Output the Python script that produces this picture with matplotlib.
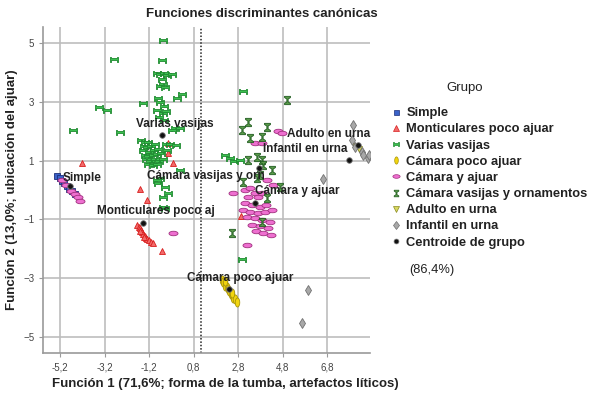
import numpy as np
import matplotlib
matplotlib.use('Agg')
import matplotlib.pyplot as plt
from matplotlib.path import Path
from matplotlib.transforms import Affine2D
from matplotlib.lines import Line2D

plt.rcParams['font.family'] = ['Liberation Sans', 'DejaVu Sans']

# --- datos (funcion 1, funcion 2) ---
simple_x = [-5.33, -5.22, -5.12, -5.02, -4.90, -4.80, -4.66, -4.55]
simple_y = [0.48, 0.40, 0.31, 0.23, 0.13, 0.05, -0.04, -0.12]

montic_x = [-1.74, -1.68, -1.63, -1.58, -1.52, -1.47, -1.40, -1.35, -1.28, -1.20,
            -1.12, -1.05, -1.62, -1.45, -4.21, -1.61, -1.30, -0.36, -0.36, -0.13,
            -0.63, 2.92]
montic_y = [-1.18, -1.25, -1.31, -1.37, -1.44, -1.50, -1.55, -1.62, -1.66, -1.71,
            -1.76, -1.80, -1.40, -1.60, 0.92, 0.03, -0.34, 1.60, 1.26, 0.92,
            -2.07, -0.88]

varias_x = [-0.58, -2.78, -0.63, -0.85, -0.72, -0.55, -0.40, -0.20, -0.63, -0.58,
            -0.70, -0.50, 0.27, 0.05, -0.81, -1.48, -3.45, -3.09, -0.72, -0.55,
            -0.85, -0.60, -0.45, -0.75, -0.55, -4.62, -2.51, -0.04, 0.18, -0.20,
            -1.55, -1.40, -1.25, -1.45, -1.30, -1.10, -0.95, -1.50, -1.20, -1.00,
            -0.80, -1.40, -1.25, -1.05, -0.85, -0.65, -1.35, -1.15, -0.95, -0.75,
            -1.25, -1.05, -0.85, -0.60, -0.45, -0.25, -0.40, 0.00, 0.18, -0.72,
            -0.81, -0.49, -0.36, -0.49, -0.85, -0.58, -0.58, 3.01, 2.20, 2.42,
            2.60, 2.87, 2.96]
varias_y = [5.10, 4.46, 4.42, 3.98, 3.95, 3.97, 3.92, 3.95, 3.78, 3.61,
            3.55, 3.50, 3.27, 3.13, 3.13, 2.96, 2.82, 2.72, 3.00, 2.85,
            2.72, 2.62, 2.70, 2.50, 2.40, 2.04, 1.97, 2.11, 2.11, 2.05,
            1.70, 1.65, 1.62, 1.50, 1.45, 1.50, 1.55, 1.35, 1.30, 1.35,
            1.40, 1.20, 1.15, 1.20, 1.22, 1.25, 1.05, 1.00, 1.05, 1.00,
            0.90, 0.85, 0.90, 1.05, 1.55, 1.55, 1.35, 1.53, 0.68, 0.41,
            0.24, 0.10, -0.10, -0.61, 0.34, -0.24, -0.58, 3.37, 1.19, 1.09,
            0.98, 1.02, -2.35]

cpoco_x = [2.06, 2.12, 2.18, 2.22, 2.28, 2.33, 2.40, 2.45, 2.52, 2.58, 2.64, 2.72, 2.20, 2.50]
cpoco_y = [-3.06, -3.13, -3.17, -3.26, -3.30, -3.37, -3.44, -3.53, -3.57, -3.66, -3.71, -3.80, -3.10, -3.49]

cajuar_x = [3.10, 3.32, 3.54, 3.23, 3.68, 3.86, 3.10, 3.41, 3.77, 4.04,
            3.01, 3.32, 3.68, 3.99, 4.31, 3.19, 3.54, 3.86, 4.22, 3.41,
            3.77, 4.13, 3.59, 3.90, 4.26, 2.56, 4.08, 4.35, 4.58, 4.76,
            3.54, 3.86, 3.19, -0.13, -5.10, -4.95, -4.70, -4.55, -4.42, -4.32]
cajuar_y = [0.00, 0.07, -0.10, -0.24, -0.24, -0.10, -0.44, -0.51, -0.58, -0.51,
            -0.68, -0.75, -0.78, -0.75, -0.68, -0.92, -0.95, -1.02, -1.09, -1.19,
            -1.22, -1.29, -1.39, -1.46, -1.53, -0.10, 0.34, 0.17, 2.00, 1.94,
            1.60, 1.60, -1.87, -1.46, 0.35, 0.18, -0.03, -0.15, -0.25, -0.36]

cvas_x = [4.98, 3.23, 2.96, 4.08, 3.32, 3.86, 3.23, 3.63, 3.86, 3.90,
          4.31, 3.01, 3.63, 4.67, 4.08, 3.77, 2.51, 3.86]
cvas_y = [3.06, 2.31, 2.04, 2.14, 1.77, 1.80, 1.02, 1.12, 1.02, 0.85,
          0.68, 0.27, 0.41, 0.10, -0.27, 0.51, -1.46, -1.09]

adulto_x = [8.03, 8.20]
adulto_y = [1.50, 1.40]

infantil_x = [7.94, 7.89, 8.03, 8.34, 8.61, 8.39, 8.68, 6.59, 5.92, 5.65]
infantil_y = [2.21, 1.70, 1.46, 1.29, 1.09, 1.19, 1.19, 0.37, -3.40, -4.52]

# centroides
cent_names = ['Simple', 'Monticulares poco aj', 'Varias vasijas', 'Cámara poco ajuar',
              'Cámara y ajuar', 'Cámara vasijas y orn', 'Adulto en urna', 'Infantil en urna']
cent_x = [-4.75, -1.48, -0.63, 2.38, 3.54, 3.72, 8.16, 7.76]
cent_y = [0.14, -1.12, 1.87, -3.37, -0.44, 0.75, 1.53, 1.02]
# posicion de la etiqueta de cada centroide
lab_x = [-5.07, -3.54, -1.79, 0.49, 3.54, -1.30, 4.98, 3.90]
lab_y = [0.41, -0.71, 2.24, -3.00, -0.03, 0.48, 1.90, 1.39]

xticks = [-5.2, -3.2, -1.2, 0.8, 2.8, 4.8, 6.8]
xtick_labels = ['-5,2', '-3,2', '-1,2', '0,8', '2,8', '4,8', '6,8']
yticks = [5, 3, 1, -1, -3, -5]
corte = 1.12

# --- marcadores ---
ell_h = Path.unit_circle().transformed(Affine2D().scale(1.0, 0.5))
ell_v = Path.unit_circle().transformed(Affine2D().scale(0.5, 1.0))
reloj = Path([(-0.7, 1), (0.7, 1), (0.7, 0.7), (0.15, 0.35), (0.15, -0.35), (0.7, -0.7),
              (0.7, -1), (-0.7, -1), (-0.7, -0.7), (-0.15, -0.35), (-0.15, 0.35),
              (-0.7, 0.7), (-0.7, 1)])
reloj_h = Path([(-1, 0.6), (-0.7, 0.6), (-0.7, 0.18), (0.7, 0.18), (0.7, 0.6),
                (1, 0.6), (1, -0.6), (0.7, -0.6), (0.7, -0.18), (-0.7, -0.18),
                (-0.7, -0.6), (-1, -0.6), (-1, 0.6)])

estilos = [
    ('Simple', simple_x, simple_y, 's', 4.5, '#3a62c8', '#1c2e7a'),
    ('Monticulares poco ajuar', montic_x, montic_y, '^', 5, '#f26a6a', '#d81e1e'),
    ('Varias vasijas', varias_x, varias_y, reloj_h, 6, '#3cc050', '#1f8a30'),
    ('Cámara poco ajuar', cpoco_x, cpoco_y, ell_v, 6.5, '#f2d50f', '#a8940a'),
    ('Cámara y ajuar', cajuar_x, cajuar_y, ell_h, 6.5, '#ee6fd0', '#a0307e'),
    ('Cámara vasijas y ornamentos', cvas_x, cvas_y, reloj, 6, '#5a9a4a', '#1e5a1e'),
    ('Adulto en urna', adulto_x, adulto_y, 'v', 5, '#d8d860', '#8a8a20'),
    ('Infantil en urna', infantil_x, infantil_y, 'd', 5.5, '#a8a8a8', '#707070'),
]

fig = plt.figure(figsize=(6, 4.03), dpi=100)
ax = fig.add_axes([0.072, 0.124, 0.545, 0.809])

handles = []
for nombre, xs, ys, mk, ms, fc, ec in estilos:
    ax.plot(xs, ys, ls='none', marker=mk, ms=ms, mfc=fc, mec=ec, mew=0.6, zorder=3)
    handles.append(Line2D([], [], ls='none', marker=mk, ms=ms * 0.8, mfc=fc, mec=ec,
                          mew=0.5, label=nombre))

ax.plot(cent_x, cent_y, ls='none', marker='o', ms=4, mfc='#111111', mec='#777777',
        mew=0.6, zorder=4)
handles.append(Line2D([], [], ls='none', marker='o', ms=3.5, mfc='#111111', mec='#777777',
                      mew=0.5, label='Centroide de grupo'))

for nom, lx, ly in zip(cent_names, lab_x, lab_y):
    ax.text(lx, ly, nom, fontsize=8.5, fontweight='bold', color='#222222',
            ha='left', va='center', zorder=5)

ax.axvline(corte, color='#222222', ls=(0, (1, 1.2)), lw=1.1, zorder=2)

ax.set_xlim(-5.96, 8.72)
ax.set_ylim(-5.55, 5.55)
ax.set_xticks(xticks)
ax.set_xticklabels(xtick_labels)
ax.set_yticks(yticks)
ax.grid(True, color='#bdbdbd', lw=1.2, zorder=0)
ax.set_axisbelow(True)
for s in ['top', 'right']:
    ax.spines[s].set_visible(False)
for s in ['left', 'bottom']:
    ax.spines[s].set_color('#9a9a9a')
    ax.spines[s].set_linewidth(1.2)
ax.tick_params(length=3, color='#9a9a9a', labelsize=7, labelcolor='#444444')

fig.text(0.437, 0.965, 'Funciones discriminantes canónicas', fontsize=9.5,
         fontweight='bold', color='#222222', ha='center', va='center')
fig.text(0.375, 0.047, 'Función 1 (71,6%; forma de la tumba, artefactos líticos)',
         fontsize=9.5, fontweight='bold', color='#222222', ha='center', va='center')
fig.text(0.02, 0.53, 'Función 2 (13,0%; ubicación del ajuar)', fontsize=9.5,
         fontweight='bold', color='#222222', ha='center', va='center', rotation=90)

fig.text(0.775, 0.782, 'Grupo', fontsize=9.5, color='#222222', ha='center', va='center')
leg = fig.legend(handles=handles, loc='upper left', bbox_to_anchor=(0.645, 0.747),
                 frameon=False, fontsize=9.3, handlelength=0.6, handletextpad=0.5,
                 labelspacing=0.32, borderaxespad=0)
for t in leg.get_texts():
    t.set_fontweight('bold')
    t.set_color('#222222')

fig.text(0.72, 0.33, '(86,4%)', fontsize=9.3, color='#222222', ha='center', va='center')

fig.savefig('out.png', dpi=100)
